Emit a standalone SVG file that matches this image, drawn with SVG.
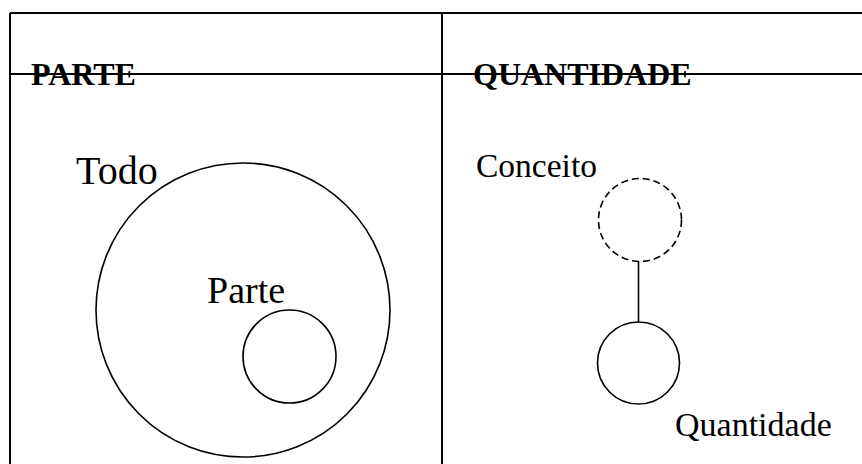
<svg xmlns="http://www.w3.org/2000/svg" width="862" height="464" viewBox="0 0 862 464">
  <style>
    .rule { stroke: #000; stroke-width: 2; fill: none; }
    .ring { stroke: #000; stroke-width: 1.6; fill: none; }
    .dash { stroke-dasharray: 7 4; }
    .title { font-family: "Liberation Serif", "Times New Roman", serif; font-weight: bold; font-size: 32px; fill: #000; }
    .label { font-family: "Liberation Serif", "Times New Roman", serif; font-size: 33px; fill: #000; }
  </style>
  <rect width="862" height="464" fill="#fff"/>

  <!-- table frame -->
  <g id="frame">
    <line class="rule" x1="10" y1="13" x2="862" y2="13"/>
    <line class="rule" x1="10" y1="13" x2="10" y2="464"/>
    <line class="rule" x1="442" y1="13" x2="442" y2="464"/>
  </g>

  <!-- column headings (rule drawn over them) -->
  <g id="headings">
    <text class="title" x="31" y="85">PARTE</text>
    <text class="title" x="473" y="85">QUANTIDADE</text>
    <line class="rule" x1="10" y1="74" x2="862" y2="74" stroke-width="1.8"/>
  </g>

  <!-- whole / part -->
  <g id="todo">
    <circle class="ring" cx="243" cy="310" r="147"/>
    <text class="label" x="76" y="184" style="font-size:40px">Todo</text>
  </g>
  <g id="parte">
    <circle class="ring" cx="289.5" cy="356.5" r="46.5"/>
    <text class="label" x="207" y="303" style="font-size:38px">Parte</text>
  </g>

  <!-- concept / quantity -->
  <g id="conceito">
    <circle class="ring dash" cx="640" cy="220" r="41.5"/>
    <text class="label" x="476" y="177" style="font-size:33.5px">Conceito</text>
  </g>
  <g id="quantidade">
    <circle class="ring" cx="638.5" cy="363" r="41"/>
    <text class="label" x="675" y="436" style="font-size:34px">Quantidade</text>
  </g>

  <g id="connectors">
    <line class="ring" x1="638.5" y1="261.5" x2="638.5" y2="322"/>
  </g>
</svg>
